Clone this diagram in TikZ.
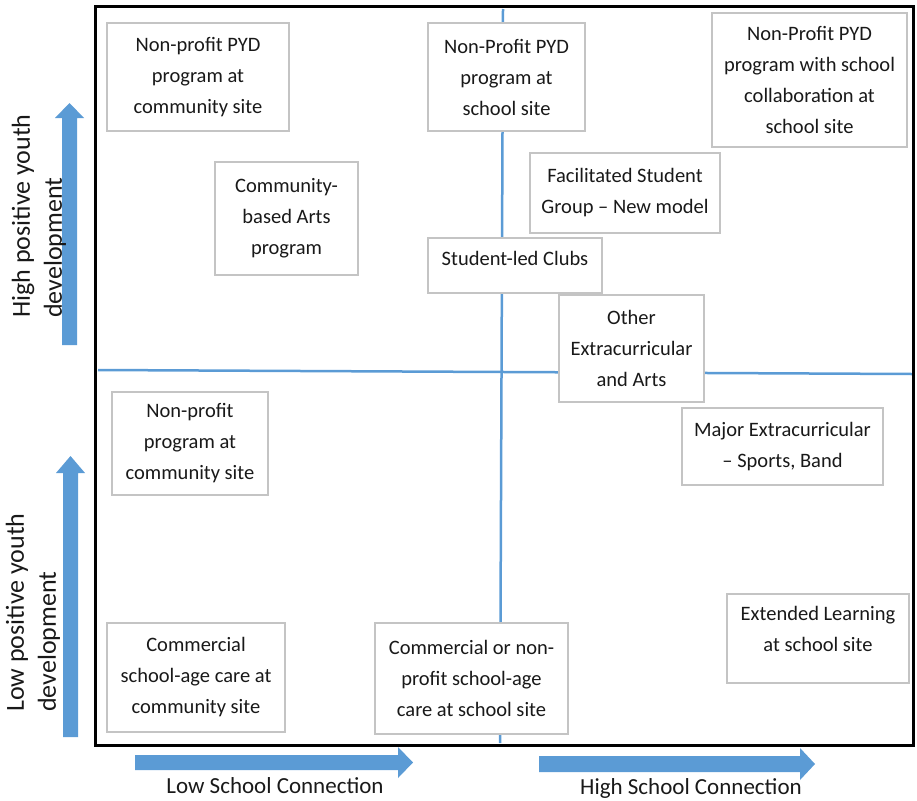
\documentclass[tikz,border=0pt]{standalone}
\usepackage{fontspec}
\setmainfont{Carlito}
\definecolor{office}{HTML}{5B9BD5}
\definecolor{boxgray}{HTML}{C4C4C4}
\begin{document}
\begin{tikzpicture}[x=1pt,y=-1pt,
  box/.style={draw=boxgray, line width=1.3pt, fill=white, align=center, inner sep=0pt,
    font=\fontsize{20.5}{31}\selectfont, text=black!90},
  boxtext/.style={align=center, inner sep=0pt, font=\fontsize{20.5}{31}\selectfont, text=black!90},
  quad/.style={draw=office, line width=2.5pt},
  blockarrow/.style={fill=office, draw=none},
  axislabel/.style={font=\fontsize{23}{28}\selectfont, inner sep=0pt, anchor=base, text=black!90},
  sidelabel/.style={font=\fontsize{26}{32}\selectfont, align=left, rotate=90, anchor=west, inner sep=0pt, text=black!90}]
\useasboundingbox (0,0) rectangle (917,800);

% quadrant lines
\coordinate (vt) at (503,9);
\coordinate (vb) at (500,743);
\coordinate (hl) at (98,370);
\coordinate (hr) at (912,374);
\draw[quad] (vt) -- (vb);
\draw[quad] (hl) -- (hr);

% frame
\draw[line width=3pt, black] (95.5,6.5) rectangle (913.5,745);

% boxes
\node[box, minimum width=182pt, minimum height=108pt] (b1) at (198,77)
  {Non-profit PYD\\program at\\community site};
\node[box, minimum width=157pt, minimum height=108pt] (b2) at (506.5,77)
  {Non-Profit PYD\\program at\\school site};
\node[box, minimum width=195pt, minimum height=134pt] (b3) at (809.5,80)
  {Non-Profit PYD\\program with school\\collaboration at\\school site};
\node[box, minimum width=143pt, minimum height=113pt] (b4) at (286.5,218.5)
  {Community-\\based Arts\\program};
\node[box, minimum width=190pt, minimum height=80pt] (b5) at (625,193)
  {Facilitated Student\\Group – New model};
\node[box, minimum width=174pt, minimum height=55pt, text depth=15pt] (b6) at (515,265.5)
  {Student-led Clubs};
\node[box, minimum width=145pt, minimum height=107pt] (b7) at (631.5,348.5)
  {Other\\Extracurricular\\and Arts};
\node[box, minimum width=156pt, minimum height=103pt] (b8) at (190,443.5)
  {Non-profit\\program at\\community site};
\node[box, minimum width=201pt, minimum height=77pt] (b9) at (782.5,446.5)
  {Major Extracurricular\\– Sports, Band};
\node[box, minimum width=182pt, minimum height=89pt] (b10) at (818,638.5) {};
\node[boxtext] (t10) at (818,629) {Extended Learning\\at school site};
\node[box, minimum width=178pt, minimum height=109pt] (b11) at (196,677.5)
  {Commercial\\school-age care at\\community site};
\node[box, minimum width=193pt, minimum height=111pt] (b12) at (471.5,678.5)
  {Commercial or non-\\profit school-age\\care at school site};

% block arrows
\fill[blockarrow] (62,345) -- (62,118) -- (55,118) -- (69.5,103) -- (84,118) -- (77,118) -- (77,345) -- cycle;
\fill[blockarrow] (63,737) -- (63,473) -- (56,473) -- (70.5,456) -- (85,473) -- (78,473) -- (78,737) -- cycle;
\fill[blockarrow] (135,755) -- (398,755) -- (398,747) -- (413,762.5) -- (398,778) -- (398,770) -- (135,770) -- cycle;
\fill[blockarrow] (539,756) -- (800,756) -- (800,748) -- (815,764) -- (800,780) -- (800,772) -- (539,772) -- cycle;

% axis labels
\node[axislabel] (lowx) at (275,793) {Low School Connection};
\node[axislabel] (highx) at (691,794) {High School Connection};
\node[sidelabel] (highy) at (39,318) {High positive youth\\development};
\node[sidelabel] (lowy) at (33,712) {Low positive youth\\development};
\end{tikzpicture}
\end{document}
